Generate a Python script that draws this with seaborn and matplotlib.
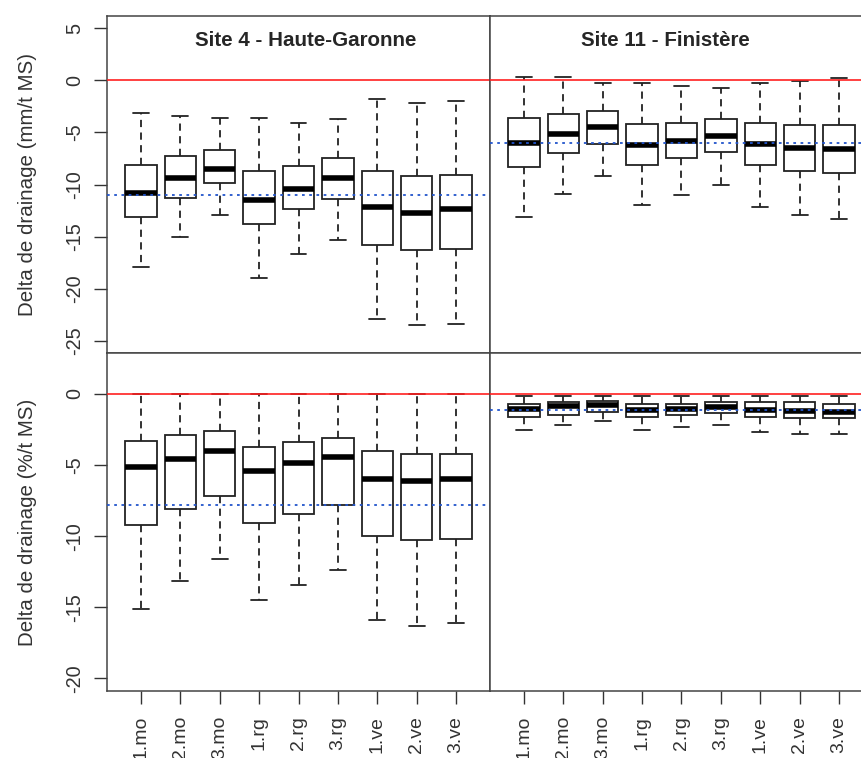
import numpy as np
import pandas as pd
import seaborn as sns
import matplotlib
matplotlib.use("Agg")
import matplotlib.pyplot as plt

# traitements
groupes = ['1.mo', '2.mo', '3.mo', '1.rg', '2.rg', '3.rg', '1.ve', '2.ve', '3.ve']

# (moustache basse, Q1, mediane, Q3, moustache haute)
hg_mm = [(-17.9, -13.1, -10.8, -8.1, -3.1),
         (-15.0, -11.3, -9.4, -7.3, -3.4),
         (-12.9, -9.9, -8.5, -6.7, -3.6),
         (-19.0, -13.8, -11.5, -8.75, -3.6),
         (-16.7, -12.4, -10.4, -8.2, -4.1),
         (-15.3, -11.4, -9.4, -7.5, -3.7),
         (-22.9, -15.8, -12.2, -8.75, -1.8),
         (-23.5, -16.3, -12.7, -9.2, -2.2),
         (-23.4, -16.2, -12.4, -9.1, -2.0)]
fi_mm = [(-13.1, -8.3, -6.0, -3.6, 0.35),
         (-10.9, -7.0, -5.1, -3.2, 0.35),
         (-9.2, -6.1, -4.5, -2.9, -0.26),
         (-12.0, -8.1, -6.2, -4.2, -0.26),
         (-11.0, -7.5, -5.8, -4.1, -0.55),
         (-10.0, -6.9, -5.3, -3.7, -0.68),
         (-12.2, -8.1, -6.1, -4.1, -0.26),
         (-12.9, -8.7, -6.5, -4.3, -0.03),
         (-13.3, -8.9, -6.6, -4.3, 0.22)]
hg_pct = [(-15.1, -9.2, -5.1, -3.3, -0.02),
          (-13.15, -8.1, -4.55, -2.9, -0.02),
          (-11.6, -7.15, -4.0, -2.6, -0.02),
          (-14.5, -9.1, -5.4, -3.75, -0.02),
          (-13.45, -8.45, -4.85, -3.35, -0.02),
          (-12.4, -7.8, -4.4, -3.1, -0.02),
          (-15.9, -10.0, -5.95, -4.0, -0.02),
          (-16.3, -10.3, -6.1, -4.2, -0.02),
          (-16.1, -10.2, -6.0, -4.2, -0.02)]
fi_pct = [(-2.55, -1.6, -1.05, -0.68, -0.12),
          (-2.15, -1.45, -0.87, -0.59, -0.12),
          (-1.9, -1.25, -0.75, -0.49, -0.12),
          (-2.5, -1.6, -1.13, -0.68, -0.12),
          (-2.35, -1.5, -1.08, -0.68, -0.12),
          (-2.15, -1.35, -0.92, -0.59, -0.12),
          (-2.7, -1.6, -1.15, -0.59, -0.12),
          (-2.8, -1.7, -1.22, -0.59, -0.12),
          (-2.8, -1.7, -1.25, -0.68, -0.12)]

# moyennes (ligne pointillee bleue)
moy_hg_mm, moy_fi_mm = -11.0, -6.0
moy_hg_pct, moy_fi_pct = -7.8, -1.13

sites = ['Site 4 - Haute-Garonne', 'Site 11 - Finistère']
ylabels = ['Delta de drainage (mm/t MS)', 'Delta de drainage (%/t MS)']


def to_long(stats):
    rows = []
    for g, vals in zip(groupes, stats):
        for v in vals:
            rows.append({'groupe': g, 'valeur': v})
    return pd.DataFrame(rows)


sns.set_style("white")
plt.rcParams['font.family'] = ['Liberation Sans', 'DejaVu Sans']

fig = plt.figure(figsize=(8.62, 7.58), dpi=100)
W = 383 / 862
positions = {
    (0, 0): [107 / 862, 1 - 353 / 758, W, 337 / 758],
    (0, 1): [490 / 862, 1 - 353 / 758, W, 337 / 758],
    (1, 0): [107 / 862, 1 - 691 / 758, W, 338 / 758],
    (1, 1): [490 / 862, 1 - 691 / 758, W, 338 / 758],
}
panels = {(0, 0): (hg_mm, moy_hg_mm), (0, 1): (fi_mm, moy_fi_mm),
          (1, 0): (hg_pct, moy_hg_pct), (1, 1): (fi_pct, moy_fi_pct)}
ylims = [(-26.2, 6.2), (-20.88, 2.88)]
yticks = [[-25, -20, -15, -10, -5, 0, 5], [-20, -15, -10, -5, 0]]

for (r, c), (stats, moy) in panels.items():
    ax = fig.add_axes(positions[(r, c)])
    df = to_long(stats)
    sns.boxplot(data=df, x='groupe', y='valeur', order=groupes, ax=ax,
                whis=(0, 100), width=0.8, color='white', linecolor='#222222',
                linewidth=1.3, fliersize=0,
                whiskerprops={'linestyle': (0, (4, 3))},
                medianprops={'linewidth': 4, 'color': 'black'})
    ax.axhline(0, color='#ff2020', lw=1.2, zorder=6)
    ax.axhline(moy, color='#2255cc', lw=1.3, ls=(0, (1.5, 2.5)), zorder=6)
    ax.set_xlim(-0.86, 8.86)
    ax.set_ylim(*ylims[r])
    ax.set_xlabel('')
    ax.set_ylabel('')
    for s in ax.spines.values():
        s.set_color('#444444')
        s.set_linewidth(1.1)
    if r == 0:
        ax.text(0.518 if c == 0 else 0.458, 0.926, sites[c], transform=ax.transAxes,
                ha='center', va='center', fontsize=14.8, fontweight='bold')
        ax.set_xticks([])
    else:
        ax.set_xticks(range(len(groupes)))
        ax.set_xticklabels(groupes, rotation=90, fontsize=14, va='top')
        ax.tick_params(axis='x', bottom=True, length=9, width=1, pad=9,
                       color='#333333', colors='#333333')
    if c == 0:
        ax.set_yticks(yticks[r])
        ax.set_yticklabels([str(t) for t in yticks[r]], rotation=90,
                           va='center', fontsize=14.3, color='#333333')
        ax.tick_params(axis='y', left=True, length=9.5, width=1, pad=7,
                       color='#333333')
        ax.set_ylabel(ylabels[r], fontsize=14.8, color='#333333', labelpad=20)
    else:
        ax.set_yticks([])

fig.savefig('out.png', dpi=100)
